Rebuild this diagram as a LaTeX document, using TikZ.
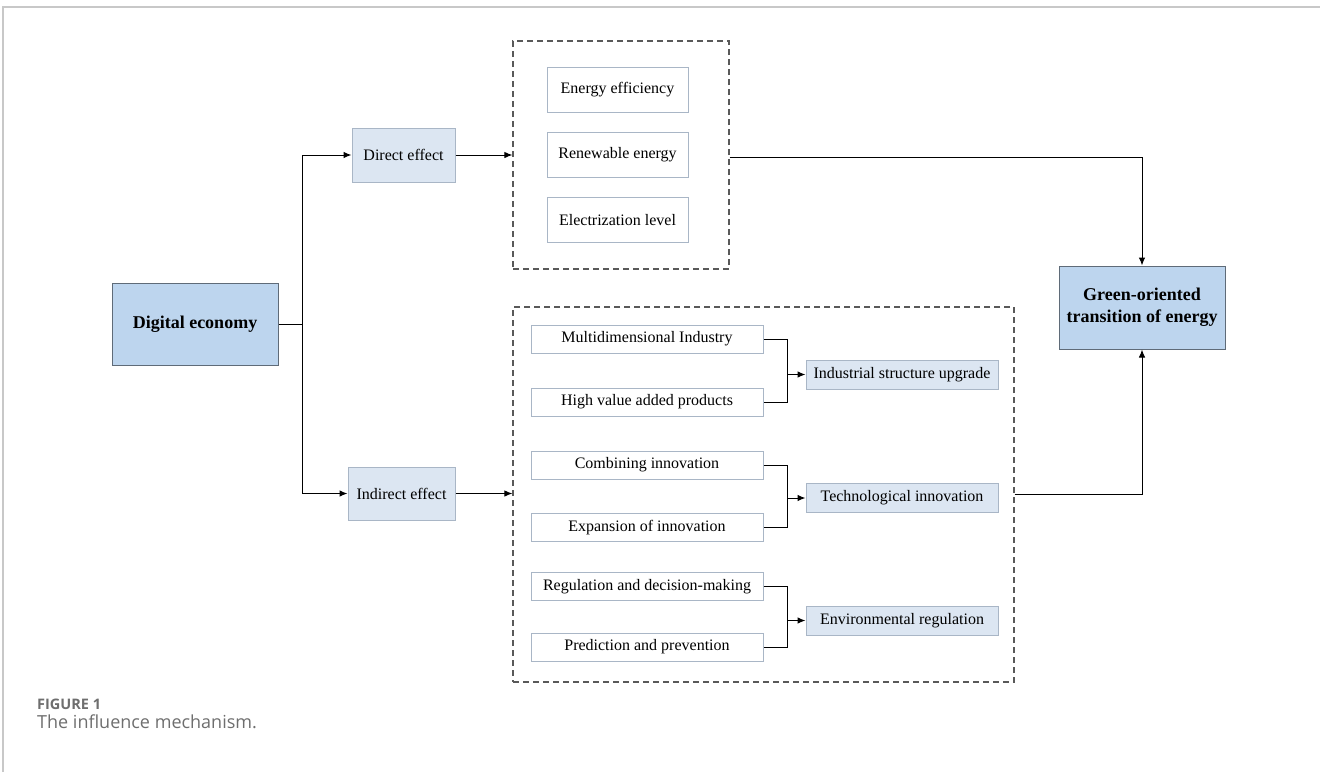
\documentclass[tikz,border=0pt]{standalone}
\usepackage{fontspec}
\setmainfont{Liberation Serif}
\newfontfamily\capfont{Open Sans}
\usetikzlibrary{arrows.meta}

\definecolor{mainblue}{HTML}{BDD5EE}
\definecolor{paleblue}{HTML}{DCE6F2}
\definecolor{edgegray}{HTML}{5F6B78}
\definecolor{boxgray}{HTML}{A9B6C6}
\definecolor{framegray}{HTML}{C8C8C8}
\definecolor{captgray}{HTML}{6E6E6E}

\tikzset{
  mainbox/.style={draw=edgegray, fill=mainblue, line width=1pt, inner sep=0pt,
    minimum width=166pt, minimum height=82pt, align=center,
    font=\fontsize{18}{22}\selectfont\bfseries},
  effbox/.style={draw=boxgray, fill=paleblue, line width=1pt, inner sep=0pt,
    minimum height=54pt, font=\fontsize{16}{19}\selectfont},
  itembox/.style={draw=boxgray, fill=white, line width=1pt, inner sep=0pt,
    minimum height=28pt, font=\fontsize{16}{19}\selectfont},
  resbox/.style={draw=boxgray, fill=paleblue, line width=1pt, inner sep=0pt,
    minimum width=192pt, minimum height=29pt, font=\fontsize{16}{19}\selectfont},
  groupbox/.style={draw=black!65, line width=1.2pt, dash pattern=on 6pt off 4pt},
  link/.style={line width=1pt},
  arr/.style={link, -{Latex[length=8pt,width=6.5pt]}}
}

\begin{document}
\begin{tikzpicture}[x=1pt,y=-1pt]
  \useasboundingbox (0,0) rectangle (1320,772);
  \draw[framegray, line width=1.5pt] (3,772) -- (3,7) -- (1320,7);

  % main nodes
  \node[mainbox] (digital) at (195,324) {Digital economy};
  \node[mainbox, minimum height=83pt] (green) at (1142,307.5)
    {Green-oriented\\transition of energy};

  \node[effbox, minimum width=103pt] (direct) at (403.5,155) {Direct effect};
  \node[effbox, minimum width=107pt, minimum height=53pt] (indirect) at (401.5,493.5) {Indirect effect};

  % dashed groups
  \node[groupbox, minimum width=216pt, minimum height=228pt] (group1) at (621,155) {};
  \node[groupbox, minimum width=501pt, minimum height=375pt] (group2) at (763.5,494.5) {};

  \node[itembox, minimum width=141pt, minimum height=45pt] (effic) at (617.5,89.5) {Energy efficiency};
  \node[itembox, minimum width=141pt, minimum height=45pt] (renew) at (617.5,155) {Renewable energy};
  \node[itembox, minimum width=141pt, minimum height=45pt] (electr) at (617.5,220) {Electrization level};

  \node[itembox, minimum width=232pt] (multi) at (647,339) {Multidimensional Industry};
  \node[itembox, minimum width=232pt] (highval) at (647,402) {High value added products};
  \node[itembox, minimum width=232pt] (comb) at (647,465) {Combining innovation};
  \node[itembox, minimum width=232pt] (expan) at (647,527.5) {Expansion of innovation};
  \node[itembox, minimum width=232pt] (regul) at (647,586.5) {Regulation and decision-making};
  \node[itembox, minimum width=232pt] (predict) at (647,647) {Prediction and prevention};

  \node[resbox] (industrial) at (902,374.5) {Industrial structure upgrade};
  \node[resbox] (techinn) at (902,498) {Technological innovation};
  \node[resbox] (envreg) at (902,620.5) {Environmental regulation};

  % connectors
  \coordinate (split) at (302,324);
  \draw[link] (digital.east) -- (split);
  \draw[arr] (split) |- (direct.west);
  \draw[arr] (split) |- (indirect.west);

  \draw[arr] (direct.east) -- (direct.east -| group1.west);
  \draw[arr] (indirect.east) -- (indirect.east -| group2.west);

  \foreach \a/\b/\r in {multi/highval/industrial, comb/expan/techinn, regul/predict/envreg} {
    \draw[link] (\a.east) -| ([xshift=-18pt]\r.west) |- (\b.east);
    \draw[arr] ([xshift=-18pt]\r.west) -- (\r.west);
  }

  \draw[arr] ([yshift=-2pt]group1.east) -| (green.north);
  \draw[arr] (group2.east) -| (green.south);

  % caption
  \node[anchor=north west, inner sep=0pt, text=captgray,
    font=\capfont\bfseries\fontsize{14.5}{17}\selectfont] (figlabel) at (37,699) {FIGURE 1};
  \node[anchor=north west, inner sep=0pt, text=captgray,
    font=\capfont\fontsize{18}{21}\selectfont] (figtext) at (37,715) {The influence mechanism.};
\end{tikzpicture}
\end{document}
